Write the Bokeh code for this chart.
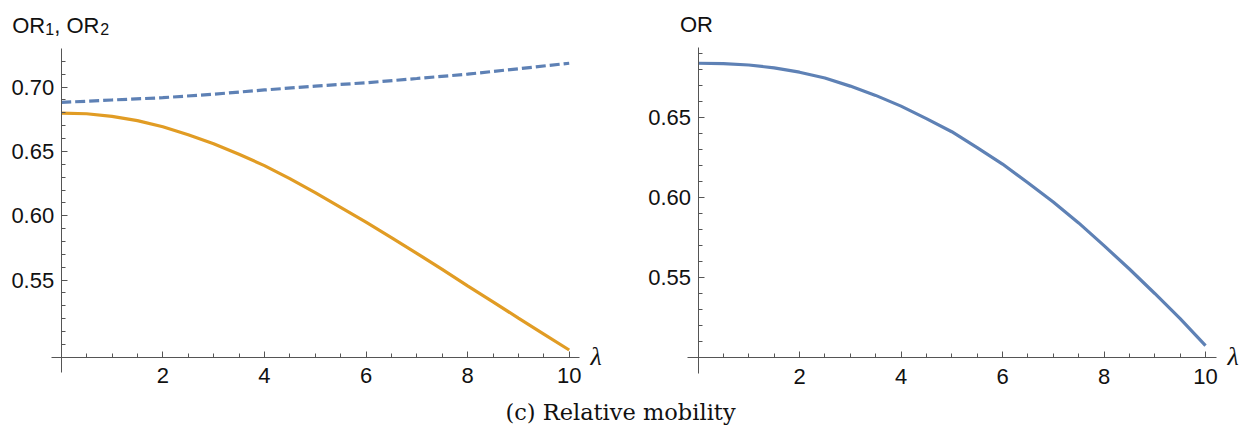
from bokeh.plotting import figure
from bokeh.models import Range1d, FixedTicker, Label, LinearAxis, NumeralTickFormatter
from bokeh.layouts import column, row
from bokeh.embed import file_html
from bokeh.resources import INLINE

# ---------------- data ----------------
lam = [0, 1, 2, 3, 4, 5, 6, 7, 8, 9, 10]
or1 = [0.6881, 0.6900, 0.6918, 0.6945, 0.6978, 0.7008, 0.7034, 0.7067, 0.7101, 0.7143, 0.7186]

lam_fine = [0, 0.5, 1, 1.5, 2, 2.5, 3, 3.5, 4, 4.5, 5, 5.5, 6, 6.5, 7, 7.5, 8, 8.5, 9, 9.5, 10]
or2 = [0.6798, 0.6793, 0.6773, 0.6740, 0.6692, 0.6630, 0.6560, 0.6478, 0.6390, 0.6289, 0.6180,
       0.6065, 0.5950, 0.5830, 0.5708, 0.5583, 0.5455, 0.5330, 0.5204, 0.5080, 0.4956]
or_total = [0.6841, 0.6838, 0.6830, 0.6812, 0.6785, 0.6749, 0.6698, 0.6640, 0.6573, 0.6495, 0.6413,
            0.6314, 0.6211, 0.6094, 0.5974, 0.5843, 0.5701, 0.5555, 0.5402, 0.5245, 0.5076]

x_major = [2, 4, 6, 8, 10]
x_minor = [0.5, 1, 1.5, 2.5, 3, 3.5, 4.5, 5, 5.5, 6.5, 7, 7.5, 8.5, 9, 9.5]
left_y_major = [0.55, 0.60, 0.65, 0.70]
left_y_minor = [round(0.50 + 0.01 * i, 2) for i in range(23)]
right_y_major = [0.55, 0.60, 0.65]
right_y_minor = [round(0.51 + 0.01 * i, 2) for i in range(19)]

caption = "(c) Relative mobility"
x_title = "λ"

BLUE = "#5E81B5"
ORANGE = "#E19C24"
AXIS = "#555555"
FONT = "Liberation Sans"
TICK_SIZE = "22px"
H = 390


def make_panel(width, xr, yr, xb, yb, x_cross, y_cross, y_major, y_minor):
    p = figure(width=width, height=H, x_range=Range1d(*xr), y_range=Range1d(*yr),
               x_axis_type=None, y_axis_type=None, toolbar_location=None,
               output_backend="svg", min_border=0)
    p.outline_line_color = None
    p.background_fill_color = "white"
    p.border_fill_color = "white"

    xa = LinearAxis(fixed_location=y_cross, bounds=xb,
                    ticker=FixedTicker(ticks=x_major, minor_ticks=x_minor),
                    formatter=NumeralTickFormatter(format="0"))
    ya = LinearAxis(fixed_location=x_cross, bounds=yb,
                    ticker=FixedTicker(ticks=y_major, minor_ticks=y_minor),
                    formatter=NumeralTickFormatter(format="0.00"))
    for ax in (xa, ya):
        ax.axis_line_color = AXIS
        ax.axis_line_width = 1
        ax.major_tick_line_color = AXIS
        ax.minor_tick_line_color = AXIS
        ax.major_tick_in = 6
        ax.major_tick_out = 0
        ax.minor_tick_in = 4
        ax.minor_tick_out = 0
        ax.major_label_text_font = FONT
        ax.major_label_text_font_size = TICK_SIZE
        ax.major_label_text_color = "#111111"
    xa.major_label_standoff = 11
    ya.major_label_standoff = 7
    p.add_layout(xa, "below")
    p.add_layout(ya, "left")

    p.add_layout(Label(x=xb[1], y=y_cross, x_offset=11, y_offset=1, text=x_title,
                       text_font="Liberation Serif", text_font_style="italic",
                       text_font_size="26px", text_baseline="middle", text_align="left",
                       text_color="#111111"))
    return p


# left panel (frame = whole figure; axes drawn at the data origin)
left_xb = (-0.191, 10.203)
left_yb = (0.478, 0.7303)
p1 = make_panel(629, (-1.1949, 11.187), (0.46411, 0.76737), left_xb, left_yb, 0, 0.49,
                left_y_major, left_y_minor)
p1.line(lam, or1, line_color=BLUE, line_width=3.2, line_dash="10 4")
p1.line(lam_fine, or2, line_color=ORANGE, line_width=3.2)
for txt, dx, dy, size in [("OR", -49, 23, "22px"), ("1", -16, 19, "16px"),
                          (", OR", -7, 23, "22px"), ("2", 39, 19, "16px")]:
    p1.add_layout(Label(x=0, y=left_yb[1], x_offset=dx, y_offset=dy, text=txt, text_font=FONT,
                        text_font_size=size, text_baseline="alphabetic", text_align="left",
                        text_color="#111111"))

# right panel
right_xb = (-0.213, 10.217)
right_yb = (0.49, 0.6937)
p2 = make_panel(629, (-1.3498, 11.044), (0.47956, 0.72331), right_xb, right_yb, 0, 0.50,
                right_y_major, right_y_minor)
p2.line(lam_fine, or_total, line_color=BLUE, line_width=3.2)
p2.add_layout(Label(x=0, y=right_yb[1], x_offset=-18, y_offset=23, text="OR", text_font=FONT,
                    text_font_size="22px", text_baseline="alphabetic", text_align="left",
                    text_color="#111111"))

# caption
p3 = figure(width=1258, height=434 - H, x_range=Range1d(0, 1258), y_range=Range1d(0, 434 - H),
            x_axis_type=None, y_axis_type=None, toolbar_location=None, output_backend="svg",
            min_border=0)
p3.outline_line_color = None
p3.add_layout(Label(x=620, y=434 - H - 28.3, y_offset=7, text=caption, text_font="DejaVu Serif",
                    text_font_size="22.5px", text_align="center", text_baseline="alphabetic",
                    text_color="#111111"))

layout = column(row(p1, p2), p3)
open("out.html", "w").write(file_html(layout, INLINE))
